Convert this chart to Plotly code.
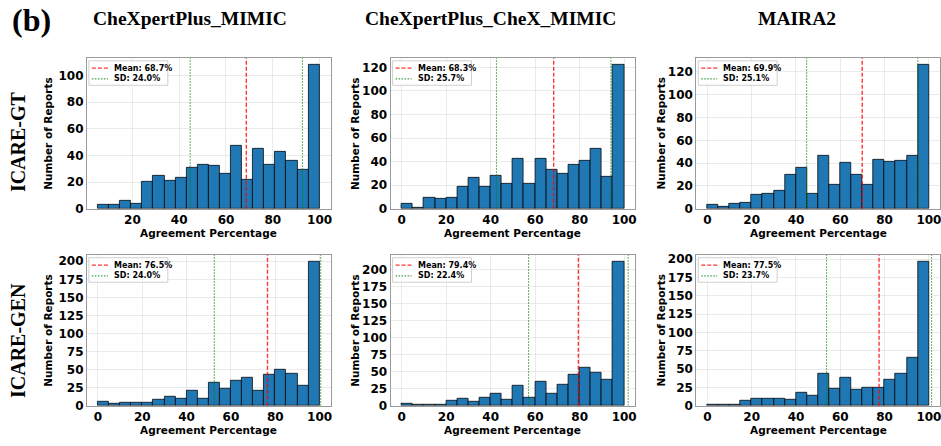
import plotly.graph_objects as go

# ---------------- data ----------------
models = ["CheXpertPlus_MIMIC", "CheXpertPlus_CheX_MIMIC", "MAIRA2"]
rows = ["ICARE-GT", "ICARE-GEN"]

gt_chexpert_mimic = [3, 3, 6, 4, 20, 25, 21, 23, 31, 33, 32, 26, 47, 22, 45, 33, 43, 36, 29, 108]
gt_chex_mimic = [4, 1, 9, 8, 9, 19, 26, 19, 28, 21, 42, 21, 42, 33, 30, 37, 41, 51, 27, 122]
gt_maira2 = [3, 2, 4, 5, 12, 13, 16, 30, 36, 13, 46, 21, 40, 30, 21, 43, 41, 42, 46, 126]
gen_chexpert_mimic = [6, 2, 4, 4, 4, 8, 12, 9, 20, 9, 32, 24, 34, 38, 20, 43, 50, 44, 28, 199]
gen_chex_mimic = [3, 2, 1, 1, 7, 10, 6, 11, 17, 8, 29, 12, 35, 18, 31, 46, 55, 49, 38, 211]
gen_maira2 = [1, 1, 1, 7, 9, 9, 10, 8, 17, 13, 43, 23, 38, 22, 24, 24, 36, 44, 65, 196]

counts = [[gt_chexpert_mimic, gt_chex_mimic, gt_maira2],
          [gen_chexpert_mimic, gen_chex_mimic, gen_maira2]]
bin_start = [[5.3, 0, 0], [0, 0, 0]]
bin_end = 100
means = [[68.7, 68.3, 69.9], [76.5, 79.4, 77.5]]
sds = [[24.0, 25.7, 25.1], [24.0, 22.4, 23.7]]
y_dtick = [20, 25]

# ---------------- layout geometry (pixels) ----------------
W, H = 941, 446
col_px = [(87, 331), (391, 636), (697, 941)]
row_px = [(57, 211), (258, 412)]
title_x = [190, 491, 798]
ylab_x = [48.5, 356, 662]

MEAN_COLOR = "rgba(255,0,0,0.8)"
SD_COLOR = "rgba(0,128,0,0.75)"
MEAN_DASH = "4px,2px"
SD_DASH = "1.5px,1.5px"


def px(x):
    return x / W


def py(y):
    return 1 - y / H


fig = go.Figure()
layout = dict(
    width=W, height=H,
    margin=dict(l=0, r=0, t=0, b=0),
    paper_bgcolor="white", plot_bgcolor="white",
    bargap=0, showlegend=False,
)
annotations = []
shapes = []
tickfont = dict(family="DejaVu Sans", size=12, color="black", weight="bold")
legfont = dict(family="DejaVu Sans", size=8, color="black", weight="bold")

k = 0
for r in range(2):
    for c in range(3):
        k += 1
        xa = "x" if k == 1 else f"x{k}"
        ya = "y" if k == 1 else f"y{k}"
        vals = counts[r][c]
        n = len(vals)
        s0 = bin_start[r][c]
        w = (bin_end - s0) / n
        centers = [s0 + w * (i + 0.5) for i in range(n)]
        span = bin_end - s0
        xr = [s0 - 0.05 * span, bin_end + 0.05 * span]
        ytop = max(vals) * 1.05

        fig.add_trace(go.Bar(
            x=centers, y=vals, width=[w] * n, xaxis=xa, yaxis=ya,
            marker=dict(color="#1f77b4", line=dict(color="rgba(0,0,0,0.75)", width=1)),
        ))
        m = means[r][c]
        s = sds[r][c]
        fig.add_trace(go.Scatter(
            x=[m, m], y=[0, ytop], mode="lines", xaxis=xa, yaxis=ya,
            line=dict(color=MEAN_COLOR, width=1.4, dash=MEAN_DASH),
        ))
        for sv in [m - s, m + s]:
            fig.add_trace(go.Scatter(
                x=[sv, sv], y=[0, ytop], mode="lines", xaxis=xa, yaxis=ya,
                line=dict(color=SD_COLOR, width=1.1, dash=SD_DASH),
            ))

        x0, x1 = col_px[c]
        y0, y1 = row_px[r]
        axkey_x = "xaxis" if k == 1 else f"xaxis{k}"
        axkey_y = "yaxis" if k == 1 else f"yaxis{k}"
        layout[axkey_x] = dict(
            domain=[px(x0), px(x1)], anchor=ya, range=xr,
            dtick=20, tick0=0, showgrid=True, gridcolor="rgba(0,0,0,0.08)",
            showline=True, linecolor="#9a9a9a", linewidth=1, mirror=True,
            ticks="", tickfont=tickfont, zeroline=False, ticklabeloverflow="allow",
        )
        layout[axkey_y] = dict(
            domain=[py(y1), py(y0)], anchor=xa, range=[0, ytop],
            dtick=y_dtick[r], tick0=0, showgrid=True, gridcolor="rgba(0,0,0,0.08)",
            showline=True, linecolor="#9a9a9a", linewidth=1, mirror=True,
            ticks="", tickfont=tickfont, zeroline=False, ticklabeloverflow="allow",
        )

        # legend box (matplotlib-style, upper left)
        lx0, ly0 = x0 + 2, y0 + 3
        lx1, ly1 = x0 + 81, y0 + 28
        shapes.append(dict(type="rect", xref="paper", yref="paper",
                           x0=px(lx0), x1=px(lx1), y0=py(ly1), y1=py(ly0),
                           fillcolor="rgba(255,255,255,0.85)",
                           line=dict(color="#d0d0d0", width=1), layer="above"))
        for yy, col, dash, wd, txt in [
            (ly0 + 7.5, MEAN_COLOR, MEAN_DASH, 1.4, f"Mean: {m:.1f}%"),
            (ly0 + 18.5, SD_COLOR, SD_DASH, 1.1, f"SD: {s:.1f}%"),
        ]:
            shapes.append(dict(type="line", xref="paper", yref="paper",
                               x0=px(lx0 + 3), x1=px(lx0 + 19), y0=py(yy), y1=py(yy),
                               line=dict(color=col, width=wd, dash=dash), layer="above"))
            annotations.append(dict(
                text=txt, x=px(lx0 + 23), y=py(yy), xref="paper", yref="paper",
                showarrow=False, xanchor="left", yanchor="middle", font=legfont,
            ))

        # axis titles
        annotations.append(dict(
            text="Agreement Percentage", x=px((x0 + x1) / 2), y=py(y1 + 25),
            xref="paper", yref="paper", showarrow=False, xanchor="center", yanchor="middle",
            font=dict(family="DejaVu Sans", size=10.5, color="black", weight="bold"),
        ))
        annotations.append(dict(
            text="Number of Reports", x=px(ylab_x[c]), y=py((y0 + y1) / 2),
            xref="paper", yref="paper", showarrow=False, textangle=-90,
            xanchor="center", yanchor="middle",
            font=dict(family="DejaVu Sans", size=10.5, color="black", weight="bold"),
        ))

serif = "Liberation Serif"
for c, name in enumerate(models):
    annotations.append(dict(
        text=f"<b>{name}</b>", x=px(title_x[c]), y=py(17), xref="paper", yref="paper",
        showarrow=False, xanchor="center", yanchor="middle",
        font=dict(family=serif, size=19.5, color="black"),
    ))
annotations.append(dict(
    text="<b>(b)</b>", x=px(32), y=py(18), xref="paper", yref="paper",
    showarrow=False, xanchor="center", yanchor="middle",
    font=dict(family=serif, size=32, color="black"),
))
row_center = [142, 345]
for r, name in enumerate(rows):
    annotations.append(dict(
        text=f"<b>{name}</b>", x=px(18), y=py(row_center[r]), xref="paper", yref="paper",
        showarrow=False, textangle=-90, xanchor="center", yanchor="middle",
        font=dict(family=serif, size=20, color="black"),
    ))

layout["annotations"] = annotations
layout["shapes"] = shapes
fig.update_layout(**layout)
fig.write_html(
    "out.html",
    config={"displayModeBar": False},
    post_script="document.body.style.margin='0';document.body.style.overflow='hidden';",
)
